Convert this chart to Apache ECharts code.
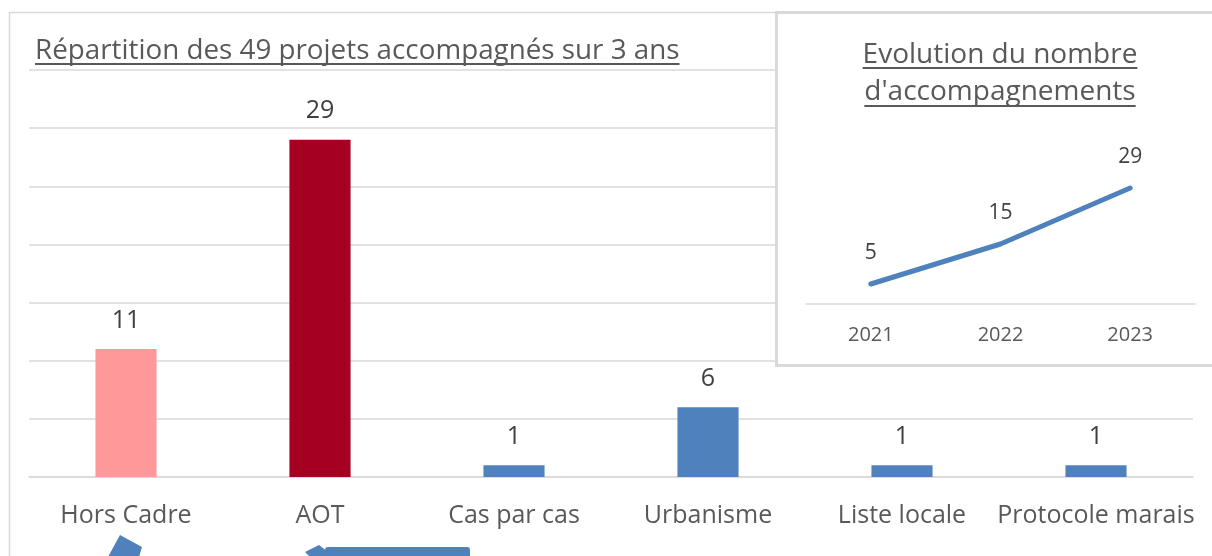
<!DOCTYPE html>
<html>
<head>
<meta charset="utf-8">
<script src="https://cdn.jsdelivr.net/npm/echarts@6/dist/echarts.min.js"></script>
<style>
  html, body { margin: 0; padding: 0; background: #fff; }
  #chart { width: 1212px; height: 556px; }
</style>
</head>
<body>
<div id="chart"></div>
<script>
// bar chart data
var categories = ['Hors Cadre', 'AOT', 'Cas par cas', 'Urbanisme', 'Liste locale', 'Protocole marais']
var projectCounts = [11, 29, 1, 6, 1, 1]
var barColors = ['#FF9999', '#A50021', '#4F81BD', '#4F81BD', '#4F81BD', '#4F81BD']

// inset line data
var years = ['2021', '2022', '2023']
var yearCounts = [5, 15, 29]

var mainTitle = 'Répartition des 49 projets accompagnés sur 3 ans'
var insetTitle1 = 'Evolution du nombre'
var insetTitle2 = "d'accompagnements"

var font = 'Open Sans'
var grey = '#595959'
var gridGrey = '#d9d9d9'
var blue = '#4F81BD'

function textWidth (text, size) {
  let ctx = document.createElement('canvas').getContext('2d')
  ctx.font = size + 'px ' + font
  return ctx.measureText(text).width
}

let myChart = echarts.init(document.getElementById('chart'))

let titleSize = 27.8
let insetSize = 28
let w1 = textWidth(mainTitle, titleSize)
let w2 = textWidth(insetTitle1, insetSize)
let w3 = textWidth(insetTitle2, insetSize)

let option = {
  animation: false,
  textStyle: { fontFamily: font },
  title: [{
    text: mainTitle,
    left: 35,
    top: 37,
    padding: 0,
    textStyle: { color: grey, fontSize: titleSize, fontWeight: 'normal', fontFamily: font, lineHeight: 28 }
  }, {
    text: insetTitle1 + '\n' + insetTitle2,
    left: 1000,
    textAlign: 'center',
    top: 37,
    padding: 0,
    z: 20,
    textStyle: { color: grey, fontSize: insetSize, fontWeight: 'normal', fontFamily: font, lineHeight: 37 }
  }],
  graphic: [
    // outer frame
    { type: 'rect', shape: { x: 9.5, y: 12.5, width: 1300, height: 600 }, style: { fill: 'none', stroke: gridGrey, lineWidth: 1.5 }, z: 1 },
    // underline of main title
    { type: 'rect', shape: { x: 35, y: 63, width: w1, height: 2 }, style: { fill: grey }, z: 3 },
    // inset frame
    { type: 'rect', shape: { x: 776.5, y: 12.5, width: 460, height: 353 }, style: { fill: '#fff', stroke: gridGrey, lineWidth: 3 }, z: 10 },
    { type: 'rect', shape: { x: 1000 - w2 / 2, y: 67, width: w2, height: 2 }, style: { fill: grey }, z: 21 },
    { type: 'rect', shape: { x: 1000 - w3 / 2, y: 105, width: w3, height: 2 }, style: { fill: grey }, z: 21 },
    // blue arrows cut off at the bottom
    { type: 'polygon', shape: { points: [[108, 557], [120, 535], [142, 547], [139, 557]] }, style: { fill: blue }, z: 3 },
    { type: 'polygon', shape: { points: [[305, 552], [319, 545], [328, 552], [328, 557], [310, 557]] }, style: { fill: blue }, z: 3 },
    { type: 'rect', shape: { x: 325, y: 547, width: 145, height: 14, r: 3 }, style: { fill: blue }, z: 3 }
  ],
  grid: [{
    left: 29,
    right: 19,
    top: 70,
    bottom: 79
  }, {
    left: 806,
    right: 17,
    top: 164,
    bottom: 252,
    z: 20
  }],
  xAxis: [{
    type: 'category',
    gridIndex: 0,
    data: categories,
    axisTick: { show: false },
    axisLine: { lineStyle: { color: gridGrey, width: 1.5 } },
    axisLabel: { color: grey, fontSize: 25, margin: 26, interval: 0 }
  }, {
    type: 'category',
    gridIndex: 1,
    data: years,
    z: 20,
    axisTick: { show: false },
    axisLine: { lineStyle: { color: gridGrey, width: 1.5 } },
    axisLabel: { color: grey, fontSize: 20, margin: 21 }
  }],
  yAxis: [{
    type: 'value',
    gridIndex: 0,
    min: 0,
    max: 35,
    interval: 5,
    axisLabel: { show: false },
    axisLine: { show: false },
    axisTick: { show: false },
    splitLine: { lineStyle: { color: gridGrey, width: 1.5 } }
  }, {
    type: 'value',
    gridIndex: 1,
    min: 0,
    max: 35,
    show: false,
    splitLine: { show: false }
  }],
  series: [{
    type: 'bar',
    xAxisIndex: 0,
    yAxisIndex: 0,
    barWidth: '31.5%',
    data: projectCounts.map(function (v, i) {
      return { value: v, itemStyle: { color: barColors[i] } }
    }),
    label: { show: true, position: 'top', distance: 16, color: '#404040', fontSize: 25 },
    z: 2
  }, {
    type: 'line',
    xAxisIndex: 1,
    yAxisIndex: 1,
    data: yearCounts,
    symbol: 'circle',
    symbolSize: 1,
    showSymbol: true,
    itemStyle: { color: 'rgba(0,0,0,0)' },
    lineStyle: { color: blue, width: 5, cap: 'round' },
    label: { show: true, position: 'top', distance: 20, color: '#404040', fontSize: 21 },
    z: 20
  }]
}
myChart.setOption(option)
</script>
</body>
</html>
